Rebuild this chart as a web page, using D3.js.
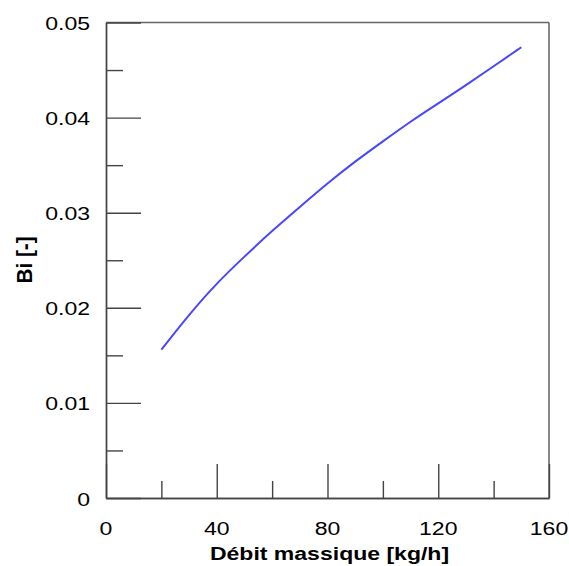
<!DOCTYPE html>
<html><head><meta charset="utf-8">
<script src="https://cdn.jsdelivr.net/npm/d3@7"></script>
<style>
html,body{margin:0;padding:0;background:#fff;}
text{font-family:"Liberation Sans",Arial,sans-serif;fill:#000;}
</style></head>
<body><svg id="c" width="569" height="566"></svg>
<script>
const xValues = [20,30,40,50,60,70,80,90,100,110,120,130,140,150];
const biValues = [0.0156,0.0193,0.0226,0.0254,0.0281,0.0306,0.0331,0.0354,0.0375,0.0396,0.0415,0.0434,0.0454,0.0474];
const xMajor = [0,40,80,120,160];
const xMinor = [20,60,100,140];
const xTickLabels = ["0","40","80","120","160"];
const yMajor = [0,0.01,0.02,0.03,0.04,0.05];
const yMinor = [0.005,0.015,0.025,0.035,0.045];
const yTickLabels = ["0","0.01","0.02","0.03","0.04","0.05"];
const xTitle = "Débit massique [kg/h]";
const yTitle = "Bi [-]";

const L=106, R=549, T=22.5, B=498;
const sx = 1.28;
const svg = d3.select("#c");
const x = d3.scaleLinear().domain([0,160]).range([L,R]);
const y = d3.scaleLinear().domain([0,0.05]).range([B,T]);
const axisColor = "#444";

function styleAxis(g){
  g.selectAll("path,line").attr("stroke",axisColor).attr("stroke-width",1.4);
  g.selectAll("text").remove();
}
svg.append("line").attr("x1",L).attr("x2",R).attr("y1",T).attr("y2",T).attr("stroke","#666").attr("stroke-width",1.4);
svg.append("line").attr("x1",R).attr("x2",R).attr("y1",T).attr("y2",B).attr("stroke","#555").attr("stroke-width",1.4);

svg.append("g").attr("transform",`translate(0,${B})`)
  .call(d3.axisBottom(x).tickValues(xMajor).tickSizeInner(-34).tickSizeOuter(0)).call(styleAxis);
svg.append("g").attr("transform",`translate(0,${B})`)
  .call(d3.axisBottom(x).tickValues(xMinor).tickSizeInner(-17).tickSizeOuter(0)).call(styleAxis);
svg.append("g").attr("transform",`translate(${L},0)`)
  .call(d3.axisLeft(y).tickValues(yMajor).tickSizeInner(-35).tickSizeOuter(0)).call(styleAxis);
svg.append("g").attr("transform",`translate(${L},0)`)
  .call(d3.axisLeft(y).tickValues(yMinor).tickSizeInner(-17).tickSizeOuter(0)).call(styleAxis);

svg.append("g").selectAll("text").data(xMajor).join("text")
  .attr("transform",(d)=>`translate(${x(d)},535) scale(${sx},1)`)
  .attr("text-anchor","middle").attr("font-size",18)
  .text((d,i)=>xTickLabels[i]);
svg.append("g").selectAll("text").data(yMajor).join("text")
  .attr("transform",(d)=>`translate(90,${y(d)+7.5}) scale(${sx},1)`)
  .attr("text-anchor","end").attr("font-size",18)
  .text((d,i)=>yTickLabels[i]);

svg.append("text").attr("transform",`translate(${(L+R)/2+2},560) scale(${sx},1)`)
  .attr("text-anchor","middle").attr("font-size",18).attr("font-weight","bold").text(xTitle);
svg.append("text").attr("transform",`translate(32,260) rotate(-90) scale(1.15,1.2)`)
  .attr("text-anchor","middle").attr("font-size",18).attr("font-weight","bold").text(yTitle);

svg.append("path").datum(xValues.map((v,i)=>[v,biValues[i]]))
  .attr("fill","none").attr("stroke","#4747ff").attr("stroke-width",2)
  .attr("d",d3.line().x(d=>x(d[0])).y(d=>y(d[1])).curve(d3.curveBasis));
</script></body></html>
